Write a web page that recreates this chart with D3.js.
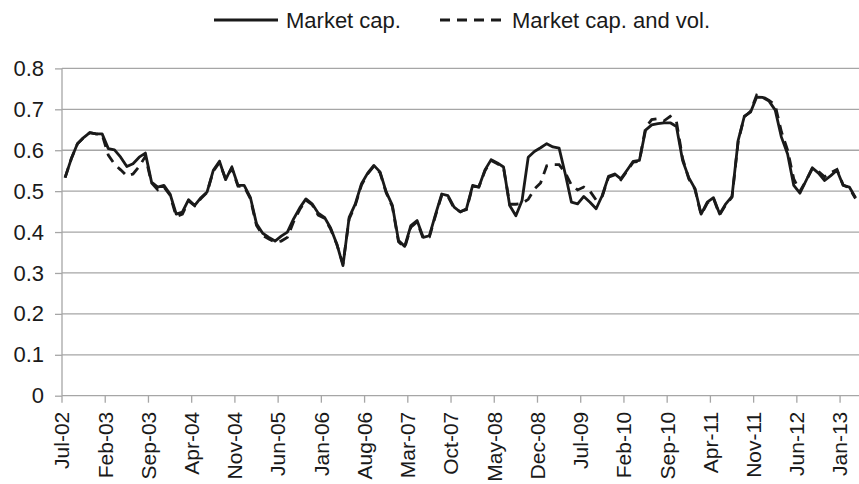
<!DOCTYPE html>
<html><head><meta charset="utf-8">
<script src="https://cdn.jsdelivr.net/npm/d3@7"></script>
<style>
html,body{margin:0;padding:0;background:#fff;}
svg{display:block;font-family:"Liberation Sans",Arial,Helvetica,sans-serif;}
</style></head>
<body><svg id="chart" width="859" height="484"></svg>
<script>
const seriesNames = ["Market cap.", "Market cap. and vol."];
const startMonth = "2002-07";
const monthCount = 129;
const tickLabels = ["Jul-02","Feb-03","Sep-03","Apr-04","Nov-04","Jun-05","Jan-06","Aug-06","Mar-07","Oct-07","May-08","Dec-08","Jul-09","Feb-10","Sep-10","Apr-11","Nov-11","Jun-12","Jan-13"];
const yTicks = [0,0.1,0.2,0.3,0.4,0.5,0.6,0.7,0.8];

const marketCap = [
0.533,0.579,0.616,0.631,0.643,0.640,0.640,0.604,0.601,0.583,
0.560,0.567,0.583,0.593,0.522,0.510,0.514,0.493,0.444,0.449,
0.479,0.465,0.484,0.498,0.551,0.573,0.528,0.559,0.514,0.514,
0.485,0.420,0.397,0.387,0.378,0.390,0.400,0.432,0.459,0.481,
0.469,0.446,0.436,0.410,0.371,0.318,0.436,0.469,0.518,0.544,
0.563,0.547,0.498,0.465,0.379,0.365,0.416,0.428,0.387,0.391,
0.444,0.493,0.489,0.461,0.449,0.457,0.514,0.510,0.552,0.577,
0.569,0.559,0.465,0.440,0.477,0.583,0.597,0.606,0.616,0.608,
0.605,0.542,0.473,0.469,0.487,0.473,0.457,0.490,0.536,0.542,
0.530,0.551,0.573,0.575,0.649,0.662,0.665,0.667,0.667,0.658,
0.575,0.533,0.506,0.444,0.473,0.484,0.444,0.469,0.487,0.624,
0.683,0.693,0.730,0.729,0.720,0.698,0.632,0.591,0.514,0.495,
0.526,0.557,0.544,0.526,0.538,0.551,0.514,0.510,0.484];

const marketCapVol = [
0.533,0.579,0.616,0.631,0.643,0.640,0.638,0.588,0.566,0.552,
0.537,0.542,0.560,0.585,0.520,0.503,0.510,0.490,0.438,0.444,
0.476,0.464,0.482,0.497,0.549,0.570,0.530,0.556,0.512,0.511,
0.482,0.416,0.392,0.383,0.375,0.378,0.387,0.425,0.455,0.478,
0.467,0.441,0.434,0.407,0.370,0.322,0.432,0.466,0.515,0.542,
0.561,0.545,0.496,0.462,0.376,0.362,0.412,0.425,0.384,0.388,
0.441,0.490,0.487,0.458,0.450,0.455,0.512,0.510,0.550,0.575,
0.567,0.557,0.468,0.468,0.470,0.480,0.505,0.520,0.562,0.565,
0.565,0.545,0.515,0.503,0.510,0.500,0.478,0.488,0.534,0.540,
0.528,0.549,0.571,0.573,0.655,0.675,0.677,0.672,0.683,0.670,
0.580,0.530,0.505,0.442,0.471,0.482,0.442,0.467,0.485,0.622,
0.682,0.695,0.735,0.730,0.722,0.710,0.645,0.600,0.530,0.500,
0.525,0.555,0.548,0.535,0.545,0.553,0.515,0.508,0.482];

const fmt = d3.timeFormat("%b-%y");
const t0 = d3.timeParse("%Y-%m")(startMonth);
const categories = d3.timeMonth.range(t0, d3.timeMonth.offset(t0, monthCount)).map(fmt);

const svg = d3.select("#chart");
const plotLeft = 62, plotRight = 858.6, plotTop = 68.4, plotBottom = 395.7;
const FS = 22, FSX = 21;

const x = d3.scaleBand().domain(categories).range([plotLeft, plotRight]).paddingInner(0).paddingOuter(0);
const y = d3.scaleLinear().domain([0, 0.8]).range([plotBottom, plotTop]);
const cx = d => x(d) + x.bandwidth() / 2;

// gridlines
svg.append("g").selectAll("line").data(yTicks.filter(v => v > 0)).join("line")
  .attr("x1", plotLeft).attr("x2", 859).attr("y1", d => y(d)).attr("y2", d => y(d))
  .attr("stroke", "#a6a6a6").attr("stroke-width", 1.3);

// y axis
const yAxis = d3.axisLeft(y).tickValues(yTicks).tickSize(7).tickPadding(11)
  .tickFormat(d => d === 0 ? "0" : d3.format(".1f")(d));
const gy = svg.append("g").attr("transform", `translate(${plotLeft},0)`).call(yAxis);
gy.select(".domain").attr("stroke", "#a6a6a6").attr("stroke-width", 1.3).attr("d", `M0,${plotBottom}V${plotTop}`);
gy.selectAll(".tick line").attr("stroke", "#a6a6a6").attr("stroke-width", 1.3);
gy.selectAll(".tick text").attr("font-size", FS).attr("fill", "#1a1a1a")
  .attr("font-family", "Liberation Sans, Arial, sans-serif");

// x axis (ticks at category boundaries, labels at ticks)
const gx = svg.append("g").attr("transform", `translate(0,${plotBottom})`);
gx.append("line").attr("x1", plotLeft).attr("x2", 859).attr("y1", 0).attr("y2", 0)
  .attr("stroke", "#a6a6a6").attr("stroke-width", 1.3);
const xt = gx.selectAll("g.tick").data(tickLabels).join("g").attr("class", "tick")
  .attr("transform", d => `translate(${x(d)},0)`);
xt.append("line").attr("y1", 0).attr("y2", 7).attr("stroke", "#a6a6a6").attr("stroke-width", 1.3);
xt.append("text").text(d => d)
  .attr("transform", "rotate(-90)")
  .attr("x", -16).attr("dy", "0.35em")
  .attr("text-anchor", "end").attr("font-size", FSX).attr("fill", "#1a1a1a");

// lines
const line = d3.line().x((d, i) => cx(categories[i])).y(d => y(d)).curve(d3.curveLinear);
svg.append("path").datum(marketCapVol).attr("d", line)
  .attr("fill", "none").attr("stroke", "#1a1a1a").attr("stroke-width", 2.8)
  .attr("stroke-dasharray", "10,7");
svg.append("path").datum(marketCap).attr("d", line)
  .attr("fill", "none").attr("stroke", "#1a1a1a").attr("stroke-width", 2.8)
  .attr("stroke-linejoin", "round");

// legend
const lg = svg.append("g").attr("transform", "translate(0,20)");
const items = [{name: seriesNames[0], x: 214, dash: null}, {name: seriesNames[1], x: 440, dash: "10,7"}];
items.forEach(it => {
  lg.append("line").attr("x1", it.x).attr("x2", it.x + 64).attr("y1", 0).attr("y2", 0)
    .attr("stroke", "#1a1a1a").attr("stroke-width", 2.8).attr("stroke-dasharray", it.dash);
  lg.append("text").attr("x", it.x + 72).attr("y", 0).attr("dy", "0.35em")
    .attr("font-size", FS).attr("fill", "#1a1a1a").text(it.name);
});
</script></body></html>
